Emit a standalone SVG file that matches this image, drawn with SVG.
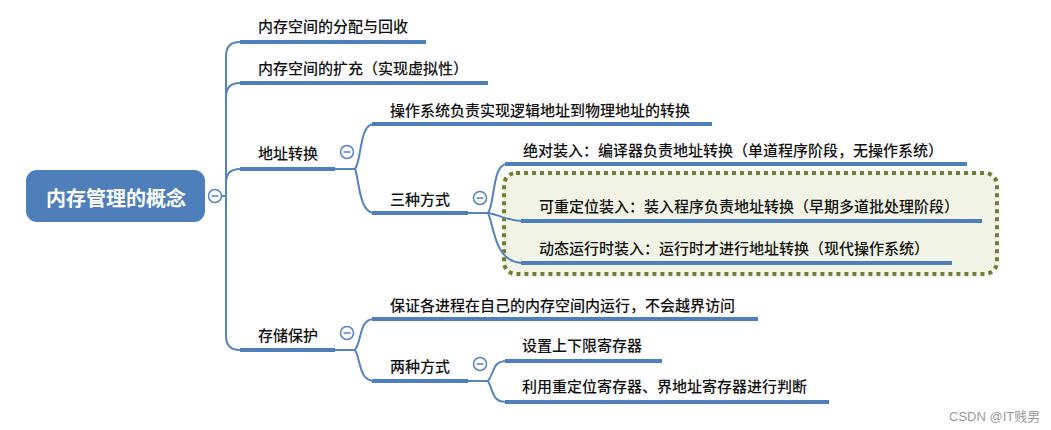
<svg xmlns="http://www.w3.org/2000/svg" width="1051" height="430" viewBox="0 0 1051 430">
<style>
.t{font-family:"Noto Sans CJK SC","Noto Sans",sans-serif;font-size:15px;font-weight:500;fill:#111}
.root{font-family:"Noto Sans CJK SC","Noto Sans",sans-serif;font-size:20px;font-weight:bold;fill:#fff}
.ul{stroke:#4F7FBB;stroke-width:4;fill:none}
.c{stroke:#5584BE;stroke-width:2;fill:none}
.tg circle{fill:#fff;stroke:#5584BE;stroke-width:1.5}
.tg line{stroke:#5584BE;stroke-width:1.5}
.wm{font-family:"Liberation Sans","Noto Sans CJK SC",sans-serif;font-size:13px;fill:#9a9a9a}
</style>
<rect width="1051" height="430" fill="#fff"/>
<g id="group-box">
<rect x="504" y="173" width="493" height="101" rx="12" fill="#F2F5E5" stroke="#6B7F2E" stroke-width="4" stroke-dasharray="4 4"/>
</g>
<g id="connectors">
<path class="c" d="M221,196 H226"/>
<path class="c" d="M240,42 Q226,42 226,56 V336 Q226,350 240,350"/>
<path class="c" d="M226,97 Q226,83 240,83"/>
<path class="c" d="M226,183 Q226,169 240,169"/>
<path class="c" d="M335,169 H355"/>
<path class="c" d="M355,169 C362,160 359,124 374,124"/>
<path class="c" d="M355,169 C359,178 359,213 374,213"/>
<path class="c" d="M468,213 H488"/>
<path class="c" d="M488,213 C495,204 492,164 507,164"/>
<path class="c" d="M488,213 C500,215 508,221 523,221"/>
<path class="c" d="M488,213 C494,225 494,263 523,263"/>
<path class="c" d="M335,350 H355"/>
<path class="c" d="M355,350 C362,341 359,319 374,319"/>
<path class="c" d="M355,350 C361,360 359,381 374,381"/>
<path class="c" d="M468,381 H488"/>
<path class="c" d="M488,381 C495,372 492,361 507,361"/>
<path class="c" d="M488,381 C494,392 492,402 507,402"/>
</g>
<g id="root">
<rect x="26" y="170" width="179" height="52" rx="11" fill="#4E7FBB"/>
<text class="root" x="116" y="206" text-anchor="middle">内存管理的概念</text>
<g class="tg"><circle cx="215" cy="196" r="6.5"/><line x1="211.5" y1="196" x2="218.5" y2="196"/></g>
</g>
<g id="n-alloc">
<text class="t" x="258" y="32">内存空间的分配与回收</text>
<path class="ul" d="M240,42 H426"/>
</g>
<g id="n-expand">
<text class="t" x="258" y="74">内存空间的扩充（实现虚拟性）</text>
<path class="ul" d="M240,83 H488"/>
</g>
<g id="n-addr">
<text class="t" x="258" y="159">地址转换</text>
<path class="ul" d="M240,169 H335"/>
<g class="tg"><circle cx="347" cy="152" r="6.5"/><line x1="343.5" y1="152" x2="350.5" y2="152"/></g>
</g>
<g id="n-os">
<text class="t" x="390" y="116">操作系统负责实现逻辑地址到物理地址的转换</text>
<path class="ul" d="M372,124 H712"/>
</g>
<g id="n-three">
<text class="t" x="390" y="205">三种方式</text>
<path class="ul" d="M372,213 H468"/>
<g class="tg"><circle cx="480" cy="198" r="6.5"/><line x1="476.5" y1="198" x2="483.5" y2="198"/></g>
</g>
<g id="n-abs">
<text class="t" x="523" y="156">绝对装入：编译器负责地址转换（单道程序阶段，无操作系统）</text>
<path class="ul" d="M505,164 H967"/>
</g>
<g id="n-reloc">
<text class="t" x="539" y="212">可重定位装入：装入程序负责地址转换（早期多道批处理阶段）</text>
<path class="ul" d="M521,221 H982"/>
</g>
<g id="n-dyn">
<text class="t" x="539" y="254">动态运行时装入：运行时才进行地址转换（现代操作系统）</text>
<path class="ul" d="M521,263 H952"/>
</g>
<g id="n-protect">
<text class="t" x="258" y="341">存储保护</text>
<path class="ul" d="M240,350 H335"/>
<g class="tg"><circle cx="347" cy="333" r="6.5"/><line x1="343.5" y1="333" x2="350.5" y2="333"/></g>
</g>
<g id="n-ensure">
<text class="t" x="390" y="311">保证各进程在自己的内存空间内运行，不会越界访问</text>
<path class="ul" d="M372,319 H758"/>
</g>
<g id="n-two">
<text class="t" x="390" y="372">两种方式</text>
<path class="ul" d="M372,381 H468"/>
<g class="tg"><circle cx="480" cy="364" r="6.5"/><line x1="476.5" y1="364" x2="483.5" y2="364"/></g>
</g>
<g id="n-limit">
<text class="t" x="522" y="351">设置上下限寄存器</text>
<path class="ul" d="M505,361 H662"/>
</g>
<g id="n-reg">
<text class="t" x="522" y="392">利用重定位寄存器、界地址寄存器进行判断</text>
<path class="ul" d="M505,402 H829"/>
</g>
<text class="wm" x="949" y="421">CSDN @IT贱男</text>
</svg>
